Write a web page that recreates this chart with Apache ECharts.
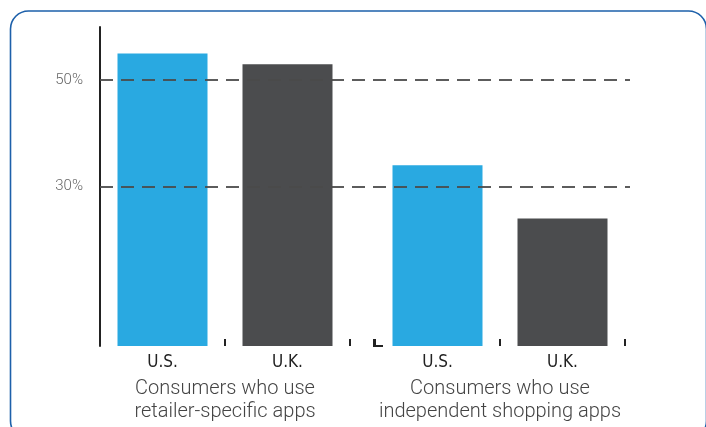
<!DOCTYPE html>
<html><head><meta charset="utf-8">
<script src="https://cdn.jsdelivr.net/npm/echarts@6/dist/echarts.min.js"></script>
<style>html,body{margin:0;padding:0;background:#fff}#c{width:706px;height:427px}</style>
</head><body><div id="c"></div>
<script>
// Data
const barLabels = ['U.S.', 'U.K.', 'U.S.', 'U.K.'];
const barPositions = [0.5, 1.5, 2.7, 3.7];
const barValues = [55, 53, 34, 24];
const barColors = ['#29a9e1', '#4b4c4e', '#29a9e1', '#4b4c4e'];
const groupLabels = ['Consumers who use\nretailer-specific apps', 'Consumers who use\nindependent shopping apps'];
const groupCenters = [1, 3.2];
const tickPositions = [1, 2, 2.2, 3.2, 4.2];
const yTickLabels = [30, 50];

const chart = echarts.init(document.getElementById('c'));
const data = barValues.map((v, i) => ({ value: [barPositions[i], v], itemStyle: { color: barColors[i] } }));

chart.setOption({
  animation: false,
  grid: { left: 100, top: 27, width: 530, bottom: 81 },
  graphic: [{
    type: 'rect', silent: true, z: -1,
    shape: { x: 10.5, y: 11, width: 696, height: 428, r: 18 },
    style: { fill: 'none', stroke: '#1d60aa', lineWidth: 1.6 }
  }, {
    type: 'polyline', silent: true, z: 5,
    shape: { points: [[374, 339], [374, 346], [383, 346]] },
    style: { stroke: '#222', lineWidth: 2, fill: 'none' }
  }],
  xAxis: [{
    type: 'value', min: 0, max: 4.24,
    axisLine: { show: false },
    splitLine: { show: false },
    axisTick: { show: true, inside: true, length: 7, customValues: tickPositions, lineStyle: { color: '#222', width: 2 } },
    axisLabel: {
      customValues: barPositions,
      formatter: (v) => { const i = barPositions.indexOf(v); return i >= 0 ? barLabels[i] : ''; },
      fontFamily: 'Liberation Sans Narrow, DejaVu Sans Condensed, sans-serif', fontSize: 17, color: '#222', margin: 8
    }
  }, {
    type: 'value', min: 0, max: 4.24, position: 'bottom', offset: 31,
    axisLine: { show: false }, splitLine: { show: false },
    axisTick: { show: false },
    axisLabel: {
      customValues: groupCenters,
      formatter: (v) => { const i = groupCenters.indexOf(v); return i >= 0 ? groupLabels[i] : ''; },
      fontFamily: 'Roboto, sans-serif', fontWeight: 300, fontSize: 20, color: '#444', lineHeight: 23, margin: 0
    }
  }],
  yAxis: {
    type: 'value', min: 0, max: 60, interval: 10,
    axisLine: { show: true, lineStyle: { color: '#222', width: 2 } },
    axisTick: { show: false },
    splitLine: { show: false },
    axisLabel: {
      formatter: (v) => yTickLabels.indexOf(v) >= 0 ? v + '%' : '',
      fontFamily: 'Roboto, sans-serif', fontWeight: 300, fontSize: 15, color: '#666', margin: 17
    }
  },
  series: [{
    type: 'bar', barWidth: 90, data: data,
    markLine: {
      silent: true, symbol: 'none', z: 10,
      label: { show: false },
      lineStyle: { color: '#4a4a4a', width: 2, type: [13, 8], opacity: 0.9 },
      data: yTickLabels.map(v => ({ yAxis: v }))
    }
  }]
});
</script></body></html>
